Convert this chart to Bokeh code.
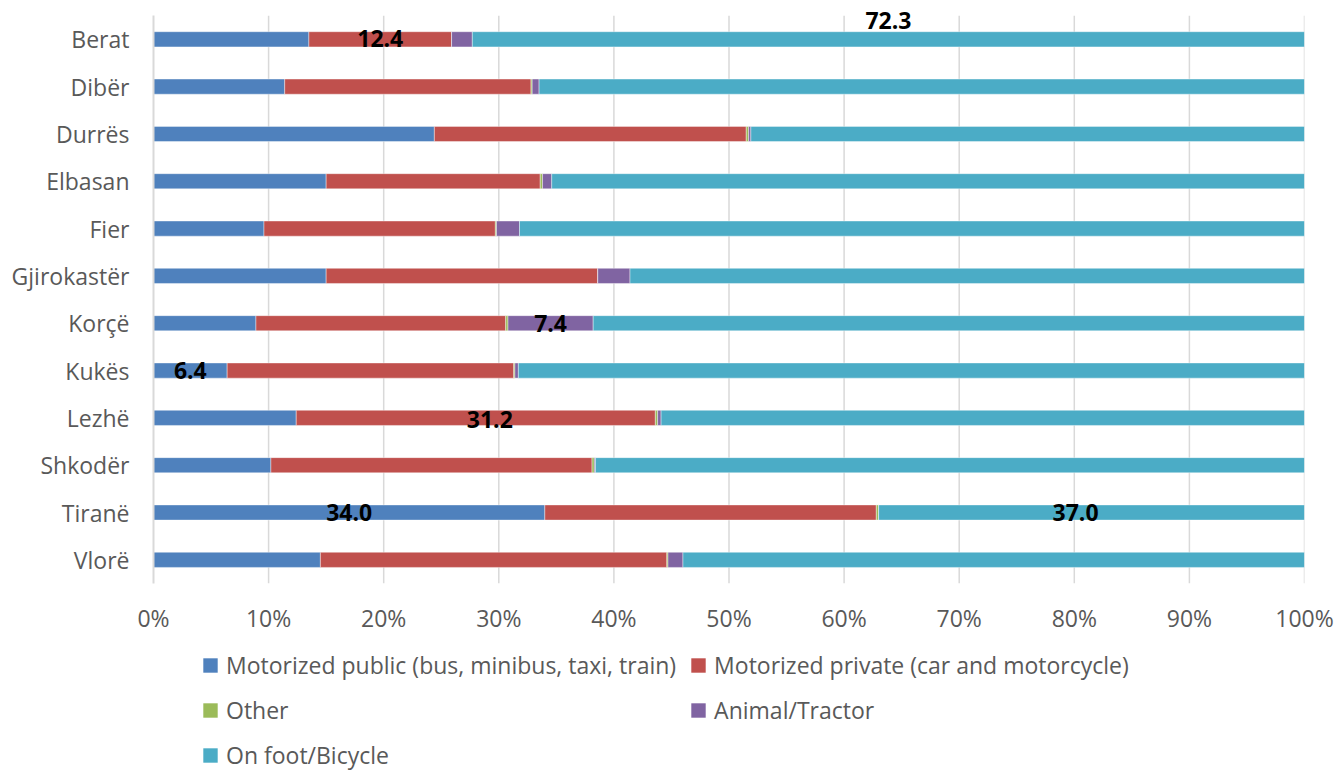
from bokeh.plotting import figure
from bokeh.layouts import column
from bokeh.models import Range1d, Legend, LegendItem, PrintfTickFormatter, ColumnDataSource, FixedTicker
from bokeh.core.properties import value
from bokeh.embed import file_html
from bokeh.resources import INLINE

regions = ["Berat", "Dibër", "Durrës", "Elbasan", "Fier", "Gjirokastër",
           "Korçë", "Kukës", "Lezhë", "Shkodër", "Tiranë", "Vlorë"]

public = [13.5, 11.4, 24.4, 15.0, 9.6, 15.0, 8.9, 6.4, 12.4, 10.2, 34.0, 14.5]
private = [12.4, 21.4, 27.1, 18.6, 20.1, 23.6, 21.7, 24.9, 31.2, 27.9, 28.8, 30.1]
other = [0.0, 0.1, 0.2, 0.2, 0.1, 0.0, 0.2, 0.1, 0.2, 0.2, 0.2, 0.1]
animal = [1.8, 0.6, 0.2, 0.8, 2.0, 2.8, 7.4, 0.3, 0.3, 0.1, 0.0, 1.3]
foot = [72.3, 66.5, 48.1, 65.4, 68.2, 58.6, 61.8, 68.3, 55.9, 61.6, 37.0, 54.0]

x_ticks = [0, 10, 20, 30, 40, 50, 60, 70, 80, 90, 100]

series_keys = ["public", "private", "other", "animal", "foot"]
series_names = ["Motorized public (bus, minibus, taxi, train)",
                "Motorized private (car and motorcycle)",
                "Other", "Animal/Tractor", "On foot/Bicycle"]
colors = ["#4F81BD", "#C0504D", "#9BBB59", "#8064A2", "#4BACC6"]

# segments that carry a value label: (region, series key)
labelled = [("Berat", "private"), ("Berat", "foot"), ("Korçë", "animal"),
            ("Kukës", "public"), ("Lezhë", "private"), ("Tiranë", "public"),
            ("Tiranë", "foot")]
# hand placement nudges for a few labels, in screen pixels
label_nudge = {("Berat", "foot"): (0, 19), ("Lezhë", "private"): (14, -2),
               ("Tiranë", "foot"): (-16, 0), ("Berat", "private"): (0, 1)}

n = len(regions)
ypos = [n - 1 - i for i in range(n)]          # first region on top
data = dict(y=ypos, public=public, private=private, other=other,
            animal=animal, foot=foot)
source = ColumnDataSource(data)

FONT = "Open Sans"
GREY = "#595959"
GRID = "#D9D9D9"
SIZE = "23px"

p = figure(width=1337, height=640, output_backend="svg", toolbar_location=None,
           y_range=Range1d(-0.5, n - 0.5 + 0.32), x_range=Range1d(0, 100),
           min_border_left=153, min_border_right=33, min_border_top=0,
           min_border_bottom=57)
p.outline_line_color = None
p.grid.grid_line_color = None

# vertical gridlines spanning the category bands only
gx = [t for t in x_ticks if t > 0]
p.segment(x0=gx, x1=gx, y0=[-0.5] * len(gx), y1=[n - 0.5] * len(gx),
          line_color=GRID, line_width=1.5)

renderers = p.hbar_stack(series_keys, y="y", height=0.32, source=source,
                         color=colors, line_color="white", line_alpha=0.5,
                         line_width=0.8)

# value labels centred on their segments
lx, ly, lt, xo, yo = [], [], [], [], []
for reg, key in labelled:
    i = regions.index(reg)
    k = series_keys.index(key)
    start = sum(data[s][i] for s in series_keys[:k])
    v = data[key][i]
    lx.append(start + v / 2)
    ly.append(ypos[i])
    lt.append(f"{v:.1f}")
    dx, dy = label_nudge.get((reg, key), (0, 0))
    xo.append(dx)
    yo.append(-dy)
lsrc = ColumnDataSource(dict(x=lx, y=ly, t=lt, xo=xo, yo=yo))
p.text(x="x", y="y", text="t", source=lsrc, x_offset="xo", y_offset="yo",
       text_align="center", text_baseline="middle", text_font=value(FONT),
       text_font_style="bold", text_font_size="23px", text_color="black")

# x axis: percentages only
p.xaxis.ticker = FixedTicker(ticks=x_ticks)
p.xaxis.formatter = PrintfTickFormatter(format="%d%%")
p.xaxis.axis_line_color = None
p.xaxis.major_tick_line_color = None
p.xaxis.minor_tick_line_color = None
p.xaxis.major_tick_in = 0
p.xaxis.major_tick_out = 0
p.xaxis.major_label_standoff = 18
p.xaxis.major_label_text_font = FONT
p.xaxis.major_label_text_font_size = SIZE
p.xaxis.major_label_text_color = GREY

# y axis: region names
p.yaxis.ticker = FixedTicker(ticks=ypos)
p.yaxis.major_label_overrides = {y: r for y, r in zip(ypos, regions)}
p.yaxis.bounds = (-0.5, n - 0.5)
p.yaxis.axis_line_color = GRID
p.yaxis.axis_line_width = 2
p.yaxis.major_tick_line_color = None
p.yaxis.minor_tick_line_color = None
p.yaxis.major_tick_in = 0
p.yaxis.major_tick_out = 0
p.yaxis.major_label_standoff = 24
p.yaxis.major_label_text_font = FONT
p.yaxis.major_label_text_font_size = SIZE
p.yaxis.major_label_text_color = GREY

# legend strip below the chart (frame aligned with the chart frame above)
lg = figure(width=1337, height=131, output_backend="svg", toolbar_location=None,
            x_range=Range1d(0, 1), y_range=Range1d(0, 1),
            x_axis_type=None, y_axis_type=None,
            min_border_left=153, min_border_right=33, min_border_top=0,
            min_border_bottom=0)
lg.outline_line_color = None
lg.grid.grid_line_color = None
# zero-width bars: they only lend their colours to the legend swatches
swatches = [lg.hbar(y=[0.5], left=[0], right=[0], height=0.5, fill_color=c,
                    line_color=None) for c in colors]
items = [LegendItem(label=nm, renderers=[r]) for nm, r in zip(series_names, swatches)]
legend = Legend(items=items, orientation="horizontal", ncols=2,
                location=(48, 0), border_line_color=None,
                background_fill_alpha=0,
                label_text_font=FONT, label_text_font_size=SIZE,
                label_text_color=GREY, glyph_width=18, glyph_height=18,
                label_height=26, spacing=13, label_standoff=7, padding=0, margin=0)
lg.add_layout(legend, "center")

open("out.html", "w").write(file_html(column(p, lg, spacing=0), INLINE))
